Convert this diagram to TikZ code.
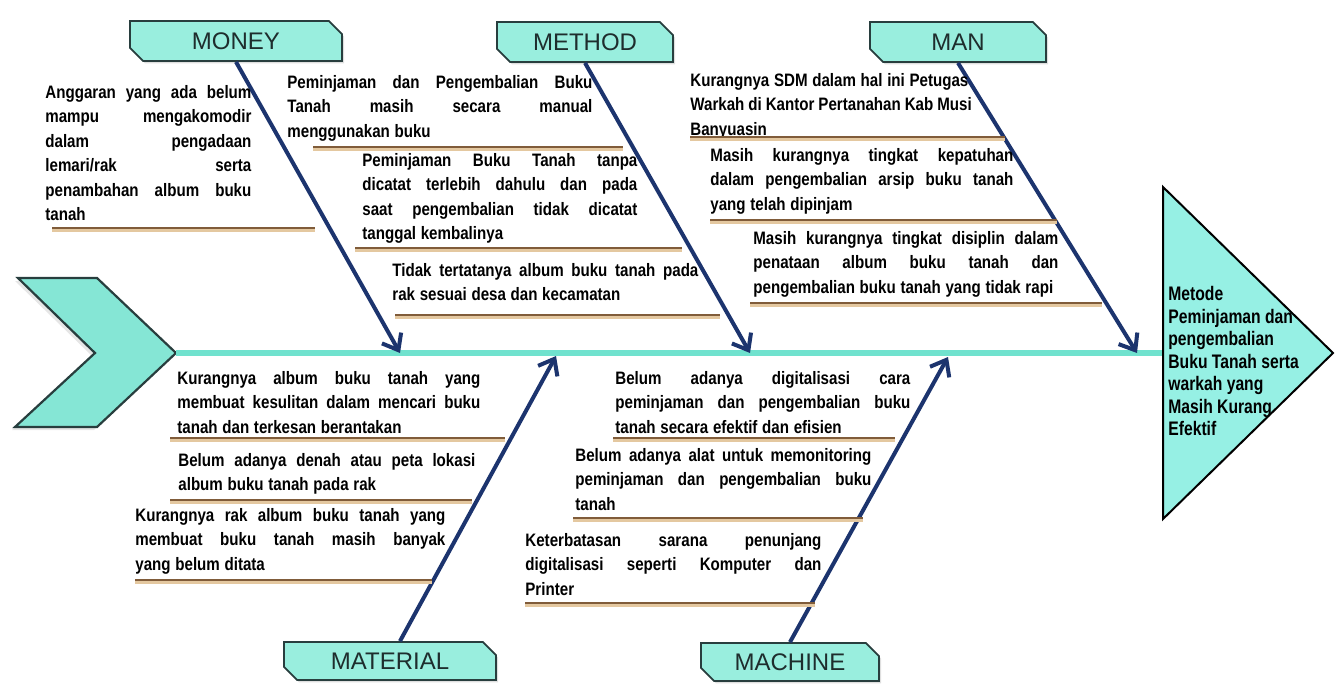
\documentclass[tikz,border=0pt]{standalone}
\usepackage{fontspec}
\setmainfont{Liberation Sans}
\newfontfamily\causefont[FakeStretch=0.84]{Liberation Sans}
\newfontfamily\effectfont[FakeStretch=0.8]{Liberation Sans}
\usetikzlibrary{arrows.meta,shapes.misc,shadows}
\hbadness=10000
\hfuzz=20pt
\newcommand{\fitline}[1]{\makebox[\hsize][s]{\spaceskip=0.26em plus 1fil minus 0.04em\relax#1}}
\newcommand{\restline}[1]{\mbox{\spaceskip=0.26em\relax#1}}

\definecolor{spineteal}{RGB}{112,226,206}
\definecolor{boxfill}{RGB}{153,238,222}
\definecolor{headfill}{RGB}{150,240,228}
\definecolor{bonenavy}{RGB}{28,52,110}
\definecolor{rulebrown}{RGB}{128,92,58}
\definecolor{ruletan}{RGB}{228,200,160}
\definecolor{edgedark}{RGB}{40,62,62}
\definecolor{labeltext}{RGB}{30,45,45}

\begin{document}
\begin{tikzpicture}[x=0.5pt,y=-0.5pt,
            cat node/.style={chamfered rectangle, chamfered rectangle corners={north east,south west},
              chamfered rectangle xsep=3pt, draw=edgedark, line width=0.9pt, fill=boxfill, text=labeltext,
              font=\fontsize{12}{14}\selectfont, inner sep=0pt, minimum height=20pt,
              drop shadow={opacity=0.25,shadow xshift=1pt,shadow yshift=-1.2pt}},
            cause node/.style={anchor=north west, inner sep=0pt, align=left,
              font=\causefont\bfseries\fontsize{9}{12.2}\selectfont},
            cause rule/.style={line width=1.3pt, draw=rulebrown,
              preaction={draw=ruletan, line width=1.5pt, transform canvas={yshift=-1.3pt}}},
            bone/.style={draw=bonenavy, line width=2pt, -{Straight Barb[length=7pt,width=11pt]}},
            spine/.style={draw=spineteal, line width=2.6pt},
            ]
            \def\S{353}
            \useasboundingbox (0,0) rectangle (1335,685);

            % tail and head
            \draw[edgedark, line width=1.1pt, fill=spineteal!85!white,
              drop shadow={opacity=0.2,shadow xshift=-1.5pt,shadow yshift=-1.5pt}]
              (18,278) -- (97,278) -- (176,\S) -- (97,427) -- (15,427) -- (95,\S) -- cycle;
            \coordinate (tail tip) at (176,\S);
            \coordinate (head base) at (1163,\S);
            \draw[spine] (tail tip) -- (head base);
            \draw[black, line width=1pt, fill=headfill] (1163,187) -- (1333,\S) -- (1163,519) -- cycle;
            \node[anchor=north west, inner sep=0pt, align=left,
              font=\effectfont\bfseries\fontsize{9.8}{11.25}\selectfont] (effect) at (1168,286)
              {Metode\\Peminjaman dan\\pengembalian\\Buku Tanah serta\\warkah yang\\Masih Kurang\\Efektif};

            % categories
            \node[cat node, minimum width=106pt] (money) at (236,41) {MONEY};
            \node[cat node, minimum width=88pt] (method) at (585,42) {METHOD};
            \node[cat node, minimum width=88pt] (man) at (958,42) {MAN};
            \node[cat node, minimum width=106pt, minimum height=19pt] (material) at (390,661) {MATERIAL};
            \node[cat node, minimum width=89pt, minimum height=19pt] (machine) at (790,662) {MACHINE};

            \coordinate (money tip) at (400,\S);
            \coordinate (method tip) at (750,\S);
            \coordinate (man tip) at (1137,\S);
            \coordinate (material tip) at (556,356);
            \coordinate (machine tip) at (948,357);

            \draw[bone] (money.south) -- (money tip);
            \draw[bone] (method.south) -- (method tip);
            \draw[bone] (man.south) -- (man tip);
            \draw[bone] (material.north) ++(10,0) -- (material tip);
            \draw[bone] (machine.north) -- (machine tip);

            % causes: money
            \node[cause node, text width=103pt] (money1) at (45,85)
              {\fitline{Anggaran yang ada belum}\\\fitline{mampu mengakomodir}\\\fitline{dalam pengadaan}\\
               \fitline{lemari/rak serta}\\\fitline{penambahan album buku}\\\restline{tanah}};
            \draw[cause rule] (52,228) -- (315,228);
            \node[cause node, text width=152.5pt] (money2) at (287,75)
              {\fitline{Peminjaman dan Pengembalian Buku}\\\fitline{Tanah masih secara manual}\\\restline{menggunakan buku}};
            \draw[cause rule] (313,147) -- (623,147);

            % causes: method
            \node[cause node, text width=137.5pt] (method1) at (362,153)
              {\fitline{Peminjaman Buku Tanah tanpa}\\\fitline{dicatat terlebih dahulu dan pada}\\
               \fitline{saat pengembalian tidak dicatat}\\\restline{tanggal kembalinya}};
            \draw[cause rule] (355,248) -- (682,248);
            \node[cause node, text width=153pt] (method2) at (392,263)
              {\fitline{Tidak tertatanya album buku tanah pada}\\\restline{rak sesuai desa dan kecamatan}};
            \draw[cause rule] (395,315) -- (720,315);

            % causes: man
            \node[cause node, text width=139pt] (man1) at (690,73)
              {\fitline{Kurangnya SDM dalam hal ini Petugas}\\\fitline{Warkah di Kantor Pertanahan Kab Musi}\\\restline{Banyuasin}};
            \draw[cause rule] (690,137) -- (1005,137);
            \node[cause node, text width=151.5pt] (man2) at (710,148)
              {\fitline{Masih kurangnya tingkat kepatuhan}\\\fitline{dalam pengembalian arsip buku tanah}\\\restline{yang telah dipinjam}};
            \draw[cause rule] (710,220) -- (1057,220);
            \node[cause node, text width=152.5pt] (man3) at (753,231)
              {\fitline{Masih kurangnya tingkat disiplin dalam}\\\fitline{penataan album buku tanah dan}\\
               \restline{pengembalian buku tanah yang tidak rapi}};
            \draw[cause rule] (750,303) -- (1102,303);

            % causes: material
            \node[cause node, text width=151.5pt] (material1) at (177,371)
              {\fitline{Kurangnya album buku tanah yang}\\\fitline{membuat kesulitan dalam mencari buku}\\
               \restline{tanah dan terkesan berantakan}};
            \draw[cause rule] (170,438) -- (505,438);
            \node[cause node, text width=148.5pt] (material2) at (178,453)
              {\fitline{Belum adanya denah atau peta lokasi}\\\restline{album buku tanah pada rak}};
            \draw[cause rule] (170,500) -- (472,500);
            \node[cause node, text width=155pt] (material3) at (135,508)
              {\fitline{Kurangnya rak album buku tanah yang}\\\fitline{membuat buku tanah masih banyak}\\\restline{yang belum ditata}};
            \draw[cause rule] (135,580) -- (432,580);

            % causes: machine
            \node[cause node, text width=147.5pt] (machine1) at (615,371)
              {\fitline{Belum adanya digitalisasi cara}\\\fitline{peminjaman dan pengembalian buku}\\
               \restline{tanah secara efektif dan efisien}};
            \draw[cause rule] (613,438) -- (895,438);
            \node[cause node, text width=148pt] (machine2) at (575,448)
              {\fitline{Belum adanya alat untuk memonitoring}\\\fitline{peminjaman dan pengembalian buku}\\\restline{tanah}};
            \draw[cause rule] (573,518) -- (863,518);
            \node[cause node, text width=148pt] (machine3) at (525,533)
              {\fitline{Keterbatasan sarana penunjang}\\\fitline{digitalisasi seperti Komputer dan}\\\restline{Printer}};
            \draw[cause rule] (525,603) -- (815,603);
        \end{tikzpicture}
\end{document}
